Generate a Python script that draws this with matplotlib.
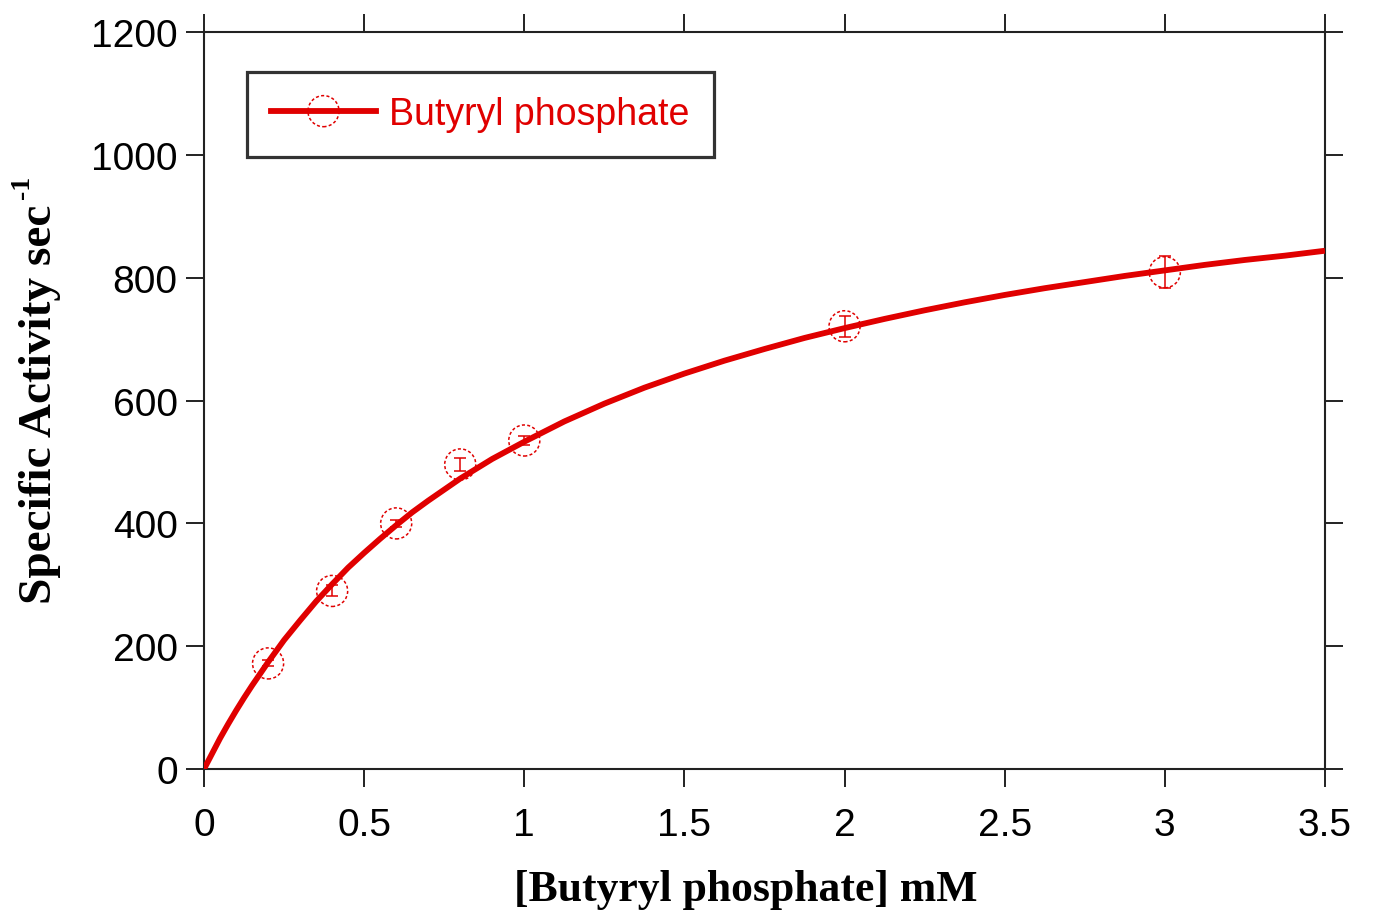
import matplotlib
matplotlib.use("Agg")
import matplotlib.pyplot as plt
from matplotlib.lines import Line2D

# measured points
conc = [0.2, 0.4, 0.6, 0.8, 1.0, 2.0, 3.0]
activity = [172, 290, 400, 496, 535, 721, 809]
errors = [5, 9, 6, 10, 7, 17, 26]

# fitted curve
curve_x = [0, 0.025, 0.05, 0.075, 0.1, 0.125, 0.15, 0.2, 0.25, 0.3, 0.35, 0.4,
           0.45, 0.5, 0.55, 0.6, 0.65, 0.7, 0.75, 0.8, 0.85, 0.9, 0.95, 1.0,
           1.125, 1.25, 1.375, 1.5, 1.625, 1.75, 1.875, 2.0, 2.125, 2.25,
           2.375, 2.5, 2.625, 2.75, 2.875, 3.0, 3.125, 3.25, 3.375, 3.5]
curve_y = [0, 25, 50, 73, 95, 116, 136, 174, 210, 242, 273, 301,
           328, 352, 375, 397, 418, 437, 455, 473, 489, 505, 519, 533,
           566, 595, 621, 644, 665, 684, 702, 718, 733, 747,
           760, 772, 783, 793, 803, 812, 821, 829, 836, 844]

x_ticks = [0, 0.5, 1, 1.5, 2, 2.5, 3, 3.5]
x_labels = ["0", "0.5", "1", "1.5", "2", "2.5", "3", "3.5"]
y_ticks = [0, 200, 400, 600, 800, 1000, 1200]

red = "#e00000"

fig = plt.figure(figsize=(13.73, 9.2), dpi=100)
ax = fig.add_axes([0.1486, 0.163, 0.8164, 0.801])

ax.plot(curve_x, curve_y, color=red, lw=4.2, zorder=3, solid_capstyle="butt")
ax.errorbar(conc, activity, yerr=errors, fmt="none", ecolor=red, elinewidth=1.1,
            capsize=4, capthick=1.1, zorder=4)
pts = ax.scatter(conc, activity, s=500, facecolors="none", edgecolors=red,
                 linewidths=1.1, linestyles=(0, (2, 1.5)), zorder=5)

ax.set_xlim(0, 3.5)
ax.set_ylim(0, 1200)
ax.set_xticks(x_ticks)
ax.set_xticklabels(x_labels)
ax.set_yticks(y_ticks)

for s in ax.spines.values():
    s.set_linewidth(1.5)
    s.set_color("#222222")
ax.tick_params(direction="out", length=13, width=1.4, color="#222222",
               top=True, right=True, labeltop=False, labelright=False,
               labelsize=28)
ax.tick_params(axis="x", pad=14)
ax.tick_params(axis="y", pad=6)
for lab in ax.get_xticklabels() + ax.get_yticklabels():
    lab.set_family("Liberation Sans")

ax.set_xlabel("[Butyryl phosphate] mM", family="Liberation Serif",
              fontweight="bold", fontsize=31.5)
ax.xaxis.set_label_coords(0.4835, -0.135)

# y label with a plain hyphen superscript
fig.text(40 / 1373, 1 - 404 / 920, "Specific Activity sec", rotation=90,
         ha="center", va="center", family="Liberation Serif",
         fontweight="bold", fontsize=34)
fig.text(22 / 1373, 1 - 199 / 920, "-1", rotation=90, ha="center", va="bottom",
         family="Liberation Serif", fontweight="bold", fontsize=20)

# legend: line with dashed circle
line_proxy = Line2D([], [], color=red, lw=4.2)
leg = ax.legend([(line_proxy, pts)], ["Butyryl phosphate"], loc="upper left",
                bbox_to_anchor=(0.038, 0.946), borderaxespad=0, frameon=True,
                fancybox=False, edgecolor="black", handlelength=2.8,
                handletextpad=0.35, borderpad=0.65, scatterpoints=1,
                scatteryoffsets=[0.5],
                prop={"family": "Liberation Sans", "size": 27})
leg.get_frame().set_linewidth(2.3)
for t in leg.get_texts():
    t.set_color(red)

fig.savefig("out.png", dpi=100)
